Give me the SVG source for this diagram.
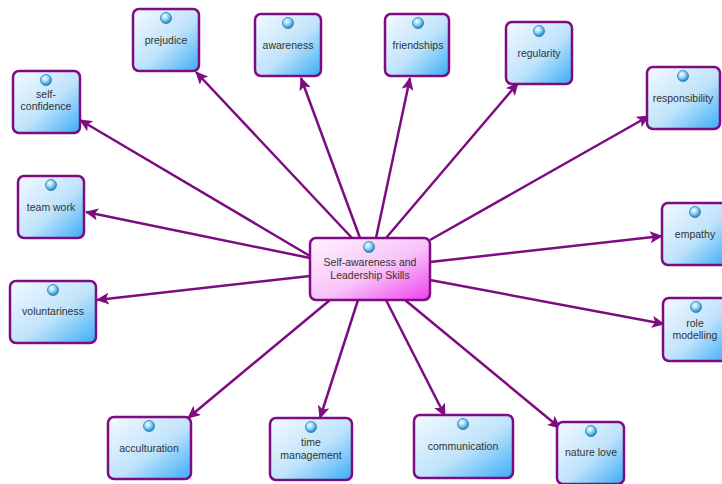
<svg xmlns="http://www.w3.org/2000/svg" width="722" height="484" viewBox="0 0 722 484">
<defs>
<linearGradient id="gb" x1="0" y1="0" x2="1" y2="1">
<stop offset="0" stop-color="#f4f9ff"/>
<stop offset="0.55" stop-color="#bfe3fb"/>
<stop offset="1" stop-color="#39adf7"/>
</linearGradient>
<linearGradient id="gp" x1="0" y1="0" x2="1" y2="1">
<stop offset="0" stop-color="#fff4ff"/>
<stop offset="0.55" stop-color="#f8c2f8"/>
<stop offset="1" stop-color="#ee3fee"/>
</linearGradient>
<radialGradient id="ball" cx="0.4" cy="0.35" r="0.65">
<stop offset="0" stop-color="#ffffff"/>
<stop offset="0.5" stop-color="#8fd3f5"/>
<stop offset="1" stop-color="#1d7fc0"/>
</radialGradient>
<marker id="ah" markerUnits="userSpaceOnUse" markerWidth="14" markerHeight="12" refX="12" refY="6" orient="auto">
<path d="M0,0 L13,6 L0,12 L3,6 Z" fill="#7d0c80"/>
</marker>
</defs>
<style>
.n rect.b{fill:url(#gb);stroke:#7d0c80;stroke-width:2.5}
.n rect.s{fill:#000;opacity:0.08}
.c rect.b{fill:url(#gp);stroke:#7d0c80;stroke-width:2.5}
.ic{fill:url(#ball);stroke:#2a7fb5;stroke-width:0.8}
text{font-family:"Liberation Sans",Arial,sans-serif;font-size:10.5px;fill:#333;text-anchor:middle}
.e line{stroke:#7d0c80;stroke-width:2.5;marker-end:url(#ah)}
</style>
<g class="e" id="connectors">
<line x1="310" y1="256" x2="80" y2="120"/>
<line x1="352" y1="238" x2="196" y2="72"/>
<line x1="360" y1="238" x2="301" y2="78"/>
<line x1="376" y1="238" x2="410" y2="78"/>
<line x1="386" y1="238" x2="518" y2="83"/>
<line x1="430" y1="240" x2="649" y2="116"/>
<line x1="310" y1="258" x2="86" y2="212"/>
<line x1="430" y1="262" x2="662" y2="236"/>
<line x1="310" y1="276" x2="97" y2="300"/>
<line x1="430" y1="280" x2="664" y2="324"/>
<line x1="330" y1="300" x2="188" y2="418"/>
<line x1="358" y1="300" x2="320" y2="418"/>
<line x1="386" y1="300" x2="445" y2="416"/>
<line x1="405" y1="300" x2="560" y2="428"/>
</g>
<g class="c" id="center">
<rect class="b" x="310" y="238" width="120" height="62" rx="6"/>
<circle class="ic" cx="369" cy="247" r="5.5"/>
<text x="370" y="266">Self-awareness and</text>
<text x="370" y="279">Leadership Skills</text>
</g>
<g class="n" id="n-selfconfidence">
<rect class="b" x="13" y="71" width="67" height="62" rx="6"/>
<circle class="ic" cx="46" cy="80" r="5.5"/>
<text x="46" y="98">self-</text>
<text x="46" y="110">confidence</text>
</g>
<g class="n" id="n-prejudice">
<rect class="b" x="133" y="9" width="66" height="62" rx="6"/>
<circle class="ic" cx="166" cy="18" r="5.5"/>
<text x="166" y="44">prejudice</text>
</g>
<g class="n" id="n-awareness">
<rect class="b" x="255" y="14" width="66" height="62" rx="6"/>
<circle class="ic" cx="288" cy="23" r="5.5"/>
<text x="288" y="49">awareness</text>
</g>
<g class="n" id="n-friendships">
<rect class="b" x="385" y="14" width="64" height="62" rx="6"/>
<circle class="ic" cx="418" cy="23" r="5.5"/>
<text x="418" y="49">friendships</text>
</g>
<g class="n" id="n-regularity">
<rect class="b" x="506" y="22" width="66" height="62" rx="6"/>
<circle class="ic" cx="539" cy="31" r="5.5"/>
<text x="539" y="57">regularity</text>
</g>
<g class="n" id="n-responsibility">
<rect class="b" x="647" y="67" width="73" height="62" rx="6"/>
<circle class="ic" cx="683" cy="76" r="5.5"/>
<text x="683" y="102">responsibility</text>
</g>
<g class="n" id="n-teamwork">
<rect class="b" x="18" y="176" width="66" height="62" rx="6"/>
<circle class="ic" cx="51" cy="185" r="5.5"/>
<text x="51" y="211">team work</text>
</g>
<g class="n" id="n-empathy">
<rect class="b" x="662" y="203" width="66" height="62" rx="6"/>
<circle class="ic" cx="695" cy="212" r="5.5"/>
<text x="695" y="238">empathy</text>
</g>
<g class="n" id="n-voluntariness">
<rect class="b" x="10" y="281" width="86" height="62" rx="6"/>
<circle class="ic" cx="53" cy="290" r="5.5"/>
<text x="53" y="315">voluntariness</text>
</g>
<g class="n" id="n-rolemodelling">
<rect class="b" x="663" y="298" width="66" height="63" rx="6"/>
<circle class="ic" cx="696" cy="307" r="5.5"/>
<text x="695" y="327">role</text>
<text x="695" y="339">modelling</text>
</g>
<g class="n" id="n-acculturation">
<rect class="b" x="108" y="417" width="83" height="62" rx="6"/>
<circle class="ic" cx="149" cy="426" r="5.5"/>
<text x="149" y="452">acculturation</text>
</g>
<g class="n" id="n-timemanagement">
<rect class="b" x="270" y="418" width="82" height="62" rx="6"/>
<circle class="ic" cx="311" cy="427" r="5.5"/>
<text x="311" y="446">time</text>
<text x="311" y="459">management</text>
</g>
<g class="n" id="n-communication">
<rect class="b" x="414" y="415" width="99" height="63" rx="6"/>
<circle class="ic" cx="463" cy="424" r="5.5"/>
<text x="463" y="450">communication</text>
</g>
<g class="n" id="n-naturelove">
<rect class="b" x="557" y="422" width="67" height="62" rx="6"/>
<circle class="ic" cx="591" cy="431" r="5.5"/>
<text x="591" y="456">nature love</text>
</g>
</svg>
